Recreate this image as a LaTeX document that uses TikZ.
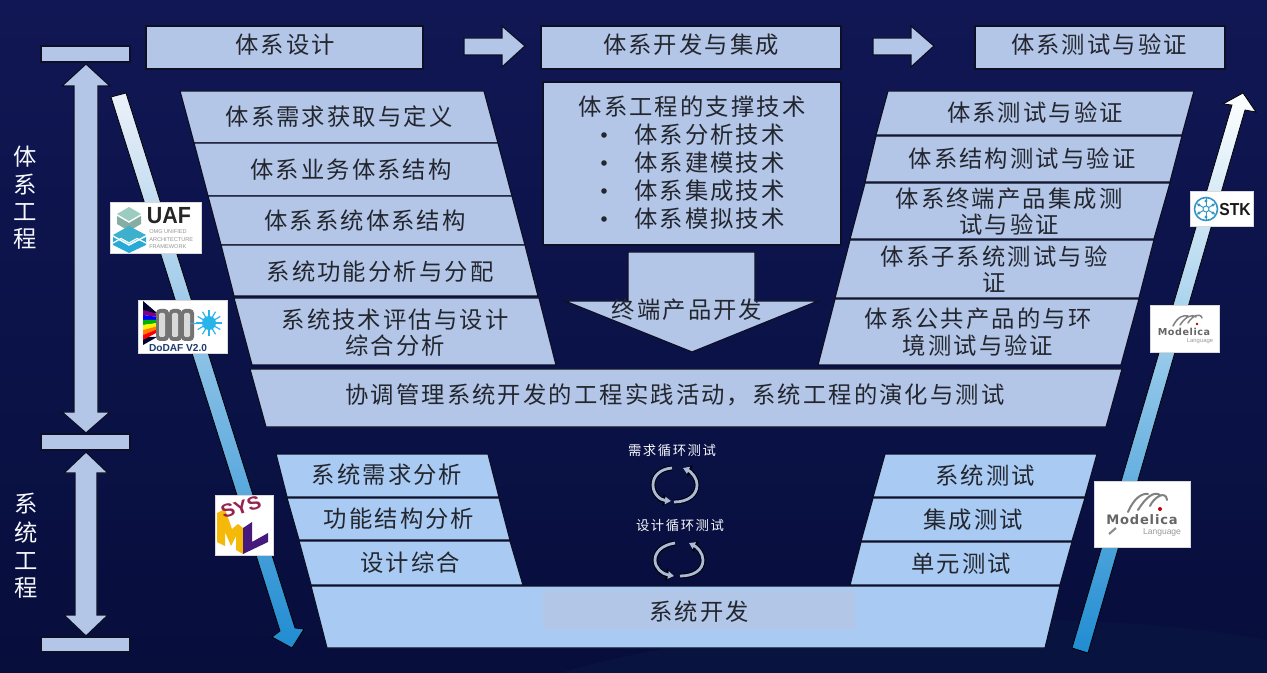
\documentclass[tikz,border=0pt]{standalone}
\usepackage{fontspec}
\setmainfont{Liberation Sans}
\newfontfamily\cjk[LetterSpace=9]{Noto Sans CJK SC}
\newfontfamily\cjksmall[LetterSpace=12]{Noto Sans CJK SC}
\newfontfamily\logomono[LetterSpace=6]{DejaVu Sans}
\usetikzlibrary{arrows.meta}
\definecolor{pale}{HTML}{B3C6E7}
\definecolor{sky}{HTML}{A9CBF3}
\definecolor{edge}{HTML}{0C0F26}
\definecolor{ink}{HTML}{23262E}
\definecolor{bgtop}{HTML}{101754}
\definecolor{bgbot}{HTML}{070E3C}
\definecolor{bgband}{HTML}{08143F}
\definecolor{arrowend}{HTML}{208CD2}
\definecolor{teal1}{HTML}{9CCBC0}
\definecolor{teal2}{HTML}{3CB0CD}
\definecolor{teal3}{HTML}{28AAD7}
\definecolor{ddblue}{HTML}{28B4EB}
\definecolor{ddnavy}{HTML}{1E3C6E}
\definecolor{symaroon}{HTML}{962350}
\definecolor{syyellow}{HTML}{F5B90A}
\definecolor{sypurple}{HTML}{46197D}
\definecolor{stkblue}{HTML}{3296C8}
\tikzset{
  x=0.75pt,y=-0.75pt,
  pbox/.style={fill=pale,draw=edge,line width=0.9pt,line join=miter},
  sbox/.style={fill=sky,draw=edge,line width=0.9pt},
  lab/.style={font=\cjk\fontsize{17.5}{20}\selectfont,text=ink,align=center,inner sep=0pt},
  side/.style={font=\cjk\fontsize{17.5}{20}\selectfont,text=white!88!pale,inner sep=0pt},
  tiny/.style={font=\cjksmall\fontsize{10}{11}\selectfont,text=white!88!pale,inner sep=0pt},
  logo/.style={fill=white,draw=white!85!black,line width=0.4pt},
  loopback/.style={line width=3.6pt,draw=black,-{Triangle[length=6pt,width=8.5pt]}},
  loopfront/.style={line width=2.1pt,draw=pale!85!gray,-{Triangle[length=4.5pt,width=5.5pt]}},
}
\begin{document}
\begin{tikzpicture}
\useasboundingbox (0,0) rectangle (1267,673);
% background
\shade[top color=bgtop,bottom color=bgbot] (0,0) rectangle (1267,673);
\fill[bgband] (560,673) .. controls (760,615) and (1080,605) .. (1267,640) -- (1267,673) -- cycle;

% header row
\draw[pbox] (146,26) rectangle (423,69);
\node[lab] (hA) at (285,45) {体系设计};
\draw[pbox] (541,26) rectangle (841,69);
\node[lab] (hB) at (691,45) {体系开发与集成};
\draw[pbox] (975,26) rectangle (1225,69);
\node[lab] (hC) at (1099,45) {体系测试与验证};
\draw[pbox] (464,38) -- (502,38) -- (502,26) -- (525,46) -- (502,67) -- (502,55) -- (464,55) -- cycle;
\draw[pbox] (873,38) -- (911,38) -- (911,26) -- (934,46) -- (911,67) -- (911,55) -- (873,55) -- cycle;

% scale at the left
\draw[pbox] (41,46) rectangle (130,62);
\draw[pbox] (41,434) rectangle (130,450);
\draw[pbox] (41,637) rectangle (130,652);
\draw[pbox] (86,64) -- (110,86) -- (98,86) -- (98,412) -- (110,412) -- (86,433) -- (62,412) -- (74,412) -- (74,86) -- (62,86) -- cycle;
\draw[pbox] (86,452) -- (108,473) -- (97,473) -- (97,615) -- (108,615) -- (86,636) -- (64,615) -- (75,615) -- (75,473) -- (64,473) -- cycle;
\node[side] (s1) at (25,157) {体};
\node[side] (s2) at (25,185) {系};
\node[side] (s3) at (25,212) {工};
\node[side] (s4) at (25,239) {程};
\node[side] (s5) at (26,504) {系};
\node[side] (s6) at (26,533) {统};
\node[side] (s7) at (26,561) {工};
\node[side] (s8) at (26,588) {程};

% long arrows
\shade[top color=white!75!pale,middle color=pale!85!sky,bottom color=arrowend,draw=black,line width=0.6pt]
  (111,97) -- (126,93) -- (295,628) -- (304,629) -- (292,648) -- (272,637) -- (280,631) -- cycle;
\shade[top color=white,middle color=pale!85!sky,bottom color=arrowend,draw=black,line width=0.6pt]
  (1243,93) -- (1256,112) -- (1245,110) -- (1088,653) -- (1072,648) -- (1232,105) -- (1223,104) -- cycle;

% left stack
\draw[pbox] (180,91) -- (484,91) -- (498,143) -- (194,143) -- cycle;
\draw[pbox] (194,143) -- (498,143) -- (512,196) -- (208,196) -- cycle;
\draw[pbox] (208,196) -- (512,196) -- (525,245) -- (221,245) -- cycle;
\draw[pbox] (221,245) -- (525,245) -- (538,296) -- (234,296) -- cycle;
\draw[pbox] (234,298) -- (539,298) -- (556,365) -- (252,365) -- cycle;
\node[lab] (a1) at (339,117) {体系需求获取与定义};
\node[lab] (a2) at (351,170) {体系业务体系结构};
\node[lab] (a3) at (365,221) {体系系统体系结构};
\node[lab] (a4) at (380,272) {系统功能分析与分配};
\node[lab] (a5) at (395,320) {系统技术评估与设计};
\node[lab] (a6) at (395,346) {综合分析};

% right stack
\draw[pbox] (888,91) -- (1194,91) -- (1182,135) -- (876,135) -- cycle;
\draw[pbox] (876,136) -- (1182,136) -- (1170,182) -- (865,182) -- cycle;
\draw[pbox] (865,183) -- (1170,183) -- (1154,239) -- (850,239) -- cycle;
\draw[pbox] (850,240) -- (1154,240) -- (1139,298) -- (835,298) -- cycle;
\draw[pbox] (835,299) -- (1139,299) -- (1121,365) -- (818,365) -- cycle;
\node[lab] (b1) at (1035,113) {体系测试与验证};
\node[lab] (b2) at (1022,159) {体系结构测试与验证};
\node[lab] (b3) at (1009,199) {体系终端产品集成测};
\node[lab] (b4) at (1009,225) {试与验证};
\node[lab] (b5) at (994,257) {体系子系统测试与验};
\node[lab] (b6) at (994,283) {证};
\node[lab] (b7) at (978,319) {体系公共产品的与环};
\node[lab] (b8) at (978,346) {境测试与验证};

% centre
\draw[pbox] (543,82) rectangle (841,245);
\node[lab] (c0) at (692,107) {体系工程的支撑技术};
\foreach \yy/\tt/\nn in {135/体系分析技术/c1,163/体系建模技术/c2,191/体系集成技术/c3,219/体系模拟技术/c4}{
  \node[lab,anchor=west] (\nn) at (634,\yy) {\tt};
  \fill[ink] (604,\yy) circle (2.8);
}
\draw[pbox] (628,252) -- (755,252) -- (755,301) -- (818,301) -- (692,352) -- (565,301) -- (628,301) -- cycle;
\node[lab] (c5) at (687,310) {终端产品开发};

% band
\draw[pbox] (250,369) -- (1122,369) -- (1106,427) -- (266,427) -- cycle;
\node[lab] (d0) at (675,395) {协调管理系统开发的工程实践活动，系统工程的演化与测试};

% lower stack
\draw[sbox] (276,454) -- (488,454) -- (499,497) -- (287,497) -- cycle;
\draw[sbox] (287,498) -- (499,498) -- (510,540) -- (299,540) -- cycle;
\draw[sbox] (299,541) -- (510,541) -- (523,585) -- (311,585) -- cycle;
\draw[sbox] (885,454) -- (1097,454) -- (1085,497) -- (873,497) -- cycle;
\draw[sbox] (873,498) -- (1085,498) -- (1072,541) -- (861,541) -- cycle;
\draw[sbox] (861,542) -- (1072,542) -- (1060,585) -- (850,585) -- cycle;
\draw[sbox] (311,586) -- (1060,586) -- (1045,648) -- (327,648) -- cycle;
\fill[pale!95!sky] (543,590) rectangle (855,630);
\node[lab] (e0) at (699,612) {系统开发};
\node[lab] (e1) at (387,475) {系统需求分析};
\node[lab] (e2) at (399,519) {功能结构分析};
\node[lab] (e3) at (410,563) {设计综合};
\node[lab] (e4) at (985,476) {系统测试};
\node[lab] (e5) at (973,520) {集成测试};
\node[lab] (e6) at (961,564) {单元测试};

% loops
\node[tiny] (f1) at (672,450) {需求循环测试};
\node[tiny] (f2) at (680,525) {设计循环测试};
\foreach \st in {loopback,loopfront}{
  \draw[\st] (672,468) .. controls (660,469) and (653,476) .. (653,485) .. controls (653,494) and (660,500) .. (671,501);
  \draw[\st] (674,502) .. controls (688,502) and (697,495) .. (697,485) .. controls (697,477) and (690,471) .. (683,468);
  \draw[\st] (675,543) .. controls (662,545) and (655,552) .. (655,560) .. controls (655,568) and (662,574) .. (674,576);
  \draw[\st] (680,576) .. controls (694,576) and (703,570) .. (703,560) .. controls (703,553) and (697,547) .. (689,543);
}

% UAF logo
\draw[logo] (110.5,202) rectangle (201,253);
\fill[teal1] (129,207) -- (141,214) -- (129,221) -- (117,214) -- cycle;
\fill[teal1!85!black] (117,216) -- (129,223) -- (141,216) -- (141,224) -- (129,231) -- (117,224) -- cycle;
\fill[teal2] (129,226) -- (146,235) -- (129,244) -- (113,235) -- cycle;
\fill[teal3] (113,237) -- (129,246) -- (146,237) -- (146,245) -- (129,253) -- (113,245) -- cycle;
\draw[white,line width=0.9pt] (113,243) -- (121,238.5) -- (129,243) -- (137,238.5) -- (146,243);
\node[inner sep=0pt,xscale=0.92,font=\bfseries\fontsize{17.5}{18}\selectfont,text=black!85] (u1) at (169,216) {UAF};
\node[inner sep=0pt,font=\fontsize{4.2}{5.6}\selectfont,text=black!42,align=left,anchor=north west] (u2) at (149,229.5) {OMG UNIFIED\\ARCHITECTURE\\FRAMEWORK};

% DoDAF logo
\draw[logo] (138,300) rectangle (227,353);
\fill[black!80!blue] (143,301) -- (157,313) -- (143,313) -- cycle;
\fill[black!80!blue] (143,345) -- (157,337) -- (143,337) -- cycle;
\foreach \i/\cc in {0/violet,1/blue,2/green!70!black,3/yellow,4/orange,5/red}{
  \fill[\cc] (143,310+\i*5) -- (143,315+\i*5) -- (158,317+\i*3) -- (158,314+\i*3) -- cycle;
}
\foreach \xx in {156,169,181}{
  \fill[black!55,rounded corners=3pt] (\xx,309) rectangle (\xx+13,341);
  \fill[black!15,rounded corners=1pt] (\xx+3,313) rectangle (\xx+9,337);
}
\draw[ddblue,line width=0.7pt] (190,323) -- (209,323);
\foreach \aa in {0,30,...,330}{ \draw[ddblue,line width=0.9pt] (209,323) -- +(\aa:13); }
\fill[ddblue] (209,323) circle (7);
\node[inner sep=0pt,font=\bfseries\fontsize{7.6}{8}\selectfont,text=ddnavy] (v1) at (178,348) {DoDAF V2.0};

% SysML logo
\draw[logo] (215,495) rectangle (273,555);
\fill[syyellow] (217,513) -- (225,509) -- (232,529) -- (238,524) -- (243,528) -- (243,554) -- (236,550) -- (236,536) -- (231,546) -- (225,532) -- (225,546) -- (217,542) -- cycle;
\fill[sypurple] (243,528) -- (252,522) -- (252,542) -- (268,533) -- (268,542) -- (243,554) -- cycle;
\node[inner sep=0pt,xscale=1.1,font=\bfseries\fontsize{14}{14}\selectfont,text=symaroon,rotate=18] (y1) at (241,507) {SYS};

% STK logo
\draw[logo] (1190,191) rectangle (1253,226);
\draw[stkblue,line width=1.2pt] (1206,209) circle (11.5);
\foreach \aa in {30,90,...,330}{
  \draw[stkblue,line width=0.7pt] (1206,209) -- +(\aa:11);
  \fill[stkblue] (1206,209) ++(\aa:8) circle (1.6);
}
\fill[white] (1206,209) circle (3);
\draw[stkblue,line width=0.7pt] (1206,209) circle (3);
\node[inner sep=0pt,xscale=0.9,font=\bfseries\fontsize{13}{13}\selectfont,text=black!90] (k1) at (1235,210) {STK};

% Modelica logos
\draw[logo] (1150,305) rectangle (1219,352);
\draw[black!50,line width=1.1pt,line cap=round] (1173,326) .. controls (1178,316) and (1184,315) .. (1188,316) (1180,325) .. controls (1186,316) and (1192,314) .. (1196,317) (1188,323) .. controls (1192,316) and (1200,312) .. (1202,318);
\fill[red!75!black] (1197,324) circle (1.4);
\node[inner sep=0pt,font=\logomono\bfseries\fontsize{7.2}{8}\selectfont,text=black!60] (m1) at (1184,332) {Modelica};
\node[inner sep=0pt,font=\fontsize{4.4}{5}\selectfont,text=black!40] (m2) at (1200,341) {Language};
\draw[logo] (1094,481) rectangle (1190,547);
\draw[black!50,line width=1.5pt,line cap=round] (1128,512) .. controls (1134,498) and (1142,493) .. (1148,494) (1138,510) .. controls (1146,497) and (1154,491) .. (1160,495) (1150,506) .. controls (1154,497) and (1166,490) .. (1167,500);
\fill[red!75!black] (1160,509) circle (2);
\draw[black!45,line width=1.6pt] (1109,534) -- (1116,528);
\node[inner sep=0pt,font=\logomono\bfseries\fontsize{9.8}{11}\selectfont,text=black!60] (m3) at (1142,520) {Modelica};
\node[inner sep=0pt,font=\fontsize{6.4}{7}\selectfont,text=black!40] (m4) at (1162,532) {Language};
\end{tikzpicture}
\end{document}
